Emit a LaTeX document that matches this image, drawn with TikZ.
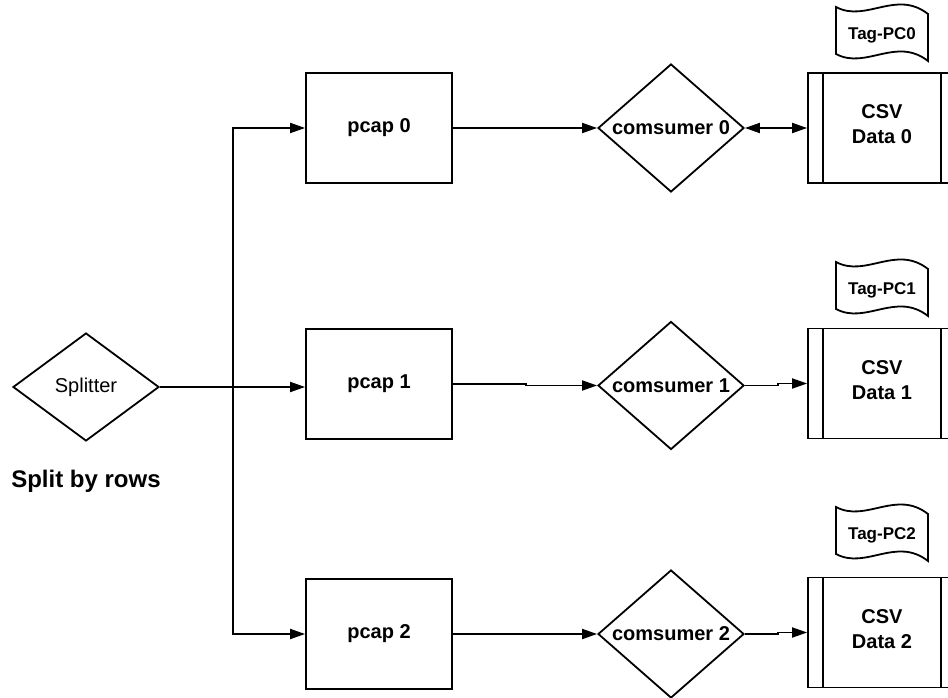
\documentclass[tikz,border=0pt]{standalone}
\usepackage{fontspec}
\setmainfont{Liberation Sans}
\usetikzlibrary{shapes.geometric,arrows.meta}
\begin{document}
\begin{tikzpicture}[x=1pt,y=-1pt,line width=1.8pt,
  boldtext/.style={font=\fontsize{20}{25}\selectfont\bfseries},
  procbox/.style={draw, rectangle, minimum width=146pt, minimum height=110pt, inner sep=0pt, boldtext},
  decision/.style={draw, diamond, aspect=1.14, minimum width=146pt, minimum height=128pt, inner sep=0pt, boldtext},
  splitbox/.style={draw, diamond, aspect=1.35, minimum width=146pt, minimum height=108pt, inner sep=0pt, font=\fontsize{20}{24}\selectfont},
  storebox/.style={draw, rectangle, minimum width=148pt, minimum height=110pt, inner sep=0pt,
    path picture={
      \draw ([xshift=15pt]path picture bounding box.north west) -- ([xshift=15pt]path picture bounding box.south west);
      \draw ([xshift=-15pt]path picture bounding box.north east) -- ([xshift=-15pt]path picture bounding box.south east);
    }},
  storetext/.style={boldtext, align=center, inner sep=0pt},
  tagtext/.style={font=\fontsize{17}{20}\selectfont\bfseries, inner sep=0pt},
  flow/.style={-{Triangle[length=15pt,width=10pt]}},
  twoway/.style={{Triangle[length=15pt,width=10pt]}-{Triangle[length=15pt,width=10pt]}},
  tagflag/.pic={
    \draw (0,0) .. controls (30,16) and (60,-18) .. (92,7) -- (92,54)
          .. controls (60,29) and (30,63) .. (0,47) -- cycle;
  }
]
% page frame
\fill[white] (0,0) rectangle (948,698);
\useasboundingbox (0,0) rectangle (948,698);

% splitter
\node[splitbox] (splitter) at (86,387) {Splitter};
\node[font=\fontsize{24}{28}\selectfont\bfseries, inner sep=0pt] (splitnote) at (86,481) {Split by rows};
\coordinate (fork) at (233,387);

% pcap sources
\node[procbox] (pcap0) at (379,128) {pcap 0};
\node[procbox] (pcap1) at (379,384) {pcap 1};
\node[procbox] (pcap2) at (379,634) {pcap 2};

% consumers
\node[decision] (c0) at (671,128) {comsumer 0};
\node[decision] (c1) at (671,385.5) {comsumer 1};
\node[decision] (c2) at (671,634) {comsumer 2};

% CSV stores
\node[storebox] (csv0) at (882,128) {};
\node[storebox] (csv1) at (882,383.5) {};
\node[storebox] (csv2) at (882,632.5) {};
\node[storetext] (csv0t) at (882,124.5) {CSV\\Data 0};
\node[storetext] (csv1t) at (882,380) {CSV\\Data 1};
\node[storetext] (csv2t) at (882,629) {CSV\\Data 2};

% tags
\pic at (836,7) {tagflag};
\pic at (836,262) {tagflag};
\pic at (836,507) {tagflag};
\node[tagtext] (tag0) at (882,35) {Tag-PC0};
\node[tagtext] (tag1) at (882,290) {Tag-PC1};
\node[tagtext] (tag2) at (882,535) {Tag-PC2};

% connectors
\draw[flow] (splitter.east) -- (splitter.east -| pcap1.west);
\draw[flow] (fork) |- (pcap0.west);
\draw[flow] (fork) |- (pcap2.west);

\draw[flow] (pcap0.east) -- (c0.west);
\draw[flow] (pcap1.east) -- ++(73,0) |- (c1.west);
\draw[flow] (pcap2.east) -- (c2.west);

\draw[twoway] (c0.east) -- (csv0.west);
\draw[flow] (c1.east) -- ++(33,0) |- (csv1.west);
\draw[flow] (c2.east) -- ++(33,0) |- (csv2.west);
\end{tikzpicture}
\end{document}
